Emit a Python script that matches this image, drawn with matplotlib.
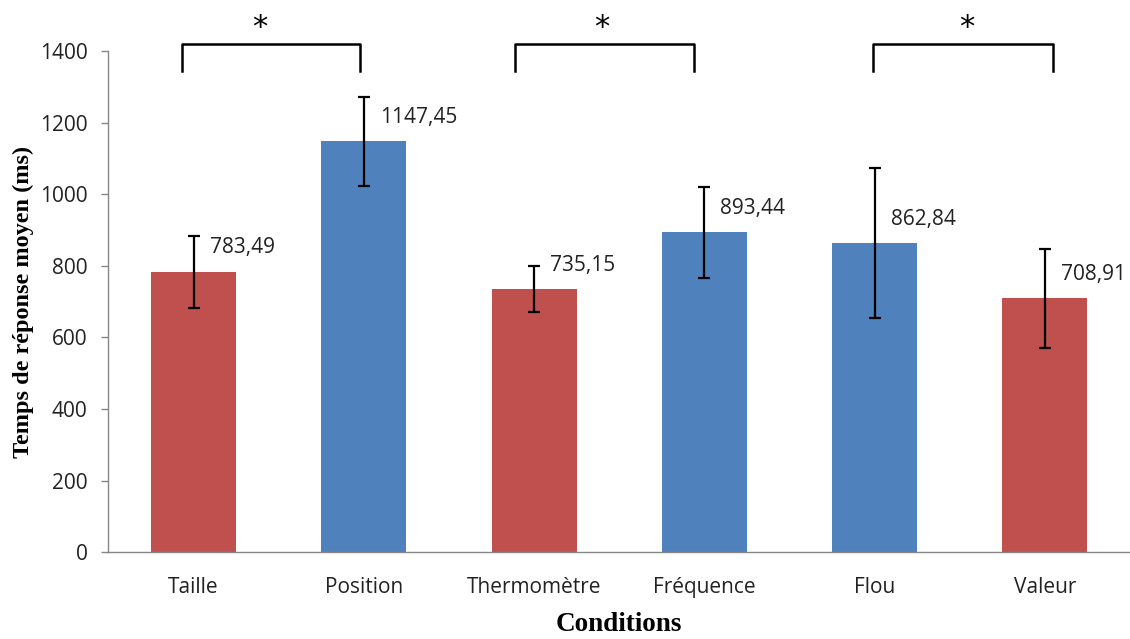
import matplotlib.pyplot as plt
import numpy as np

# data
conditions = ['Taille', 'Position', 'Thermomètre', 'Fréquence', 'Flou', 'Valeur']
means = [783.49, 1147.45, 735.15, 893.44, 862.84, 708.91]
errors = [100, 125, 63, 128, 210, 138]
labels = ['783,49', '1147,45', '735,15', '893,44', '862,84', '708,91']
bar_colors = ['#C0504D', '#4F81BD', '#C0504D', '#4F81BD', '#4F81BD', '#C0504D']

# significance brackets (left x, right x, star x) in category units
brackets = [(-0.07, 0.98, 0.39), (1.89, 2.94, 2.40), (3.99, 5.05, 4.54)]

tick_font = 'Open Sans'
label_font = 'Liberation Serif'
fs = 15

fig = plt.figure(figsize=(11.30, 6.39), dpi=100)
ax = fig.add_axes([0.096, 0.136, 0.904, 0.784])

x = np.arange(len(conditions))
ax.bar(x, means, width=0.5, color=bar_colors, zorder=2)
ax.errorbar(x, means, yerr=errors, fmt='none', ecolor='black',
            elinewidth=1.6, capsize=4.5, capthick=1.6, zorder=3)

for xi, m, lab in zip(x, means, labels):
    ax.annotate(lab, (xi, m), xytext=(16, 24), textcoords='offset pixels',
                ha='left', va='center', fontsize=fs, family=tick_font,
                color='#222222')

ax.set_xlim(-0.5, len(conditions) - 0.5)
ax.set_ylim(0, 1400)
ax.set_yticks(np.arange(0, 1401, 200))
ax.set_xticks(x)
ax.set_xticklabels(conditions, fontsize=fs, family=tick_font)
for t in ax.get_yticklabels():
    t.set_fontsize(fs)
    t.set_family(tick_font)

ax.tick_params(axis='x', length=0, pad=18, labelcolor='#222222')
ax.tick_params(axis='y', length=5, width=1, color='#868686', pad=10,
               labelcolor='#222222')

for side in ['top', 'right']:
    ax.spines[side].set_visible(False)
for side in ['left', 'bottom']:
    ax.spines[side].set_color('#868686')
    ax.spines[side].set_linewidth(1)

ax.set_ylabel('Temps de réponse moyen (ms)', family=label_font,
              fontweight='bold', fontsize=17.5, labelpad=4)
ax.set_xlabel('Conditions', family=label_font, fontweight='bold',
              fontsize=19.5, labelpad=10)

# brackets with stars above the plot area
y_low, y_high = 1344, 1419
for left, right, star in brackets:
    ax.plot([left, left, right, right], [y_low, y_high, y_high, y_low],
            color='black', lw=1.8, clip_on=False, zorder=4)
    ax.text(star, 1466, '*', ha='center', va='center', fontsize=22,
            family='DejaVu Sans', clip_on=False)

fig.savefig('out.png', dpi=100)
